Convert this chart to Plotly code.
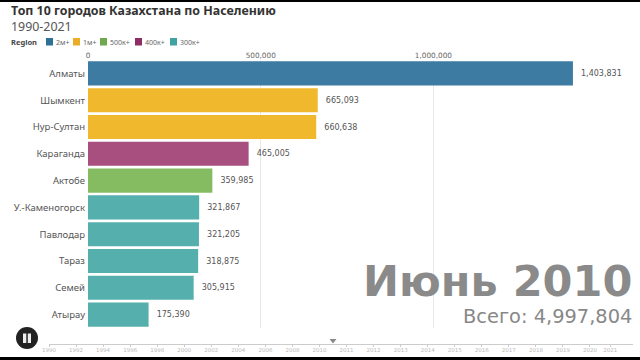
import plotly.graph_objects as go

cities = ["Алматы", "Шымкент", "Нур-Султан", "Караганда", "Актобе",
          "У.-Каменогорск", "Павлодар", "Тараз", "Семей", "Атырау"]
values = [1403831, 665093, 660638, 465005, 359985,
          321867, 321205, 318875, 305915, 175390]
regions = ["2м+", "1м+", "1м+", "400к+", "500к+",
           "300к+", "300к+", "300к+", "300к+", "300к+"]
region_names = ["2м+", "1м+", "500к+", "400к+", "300к+"]
bar_colors = ["#3d7ba3", "#f0b92d", "#85bc62", "#a84f80", "#55b0ad"]
legend_colors = ["#2f7099", "#e9ae25", "#6fa84f", "#8e2c66", "#3fa3a3"]
legend_x = [46, 73, 100, 135, 170]
x_ticks = [0, 500000, 1000000]
timeline_slots = list(range(0, 21)) + [20.75]
timeline_labels = ["1990", "1992", "1994", "1996", "1998", "2000", "2002", "2004", "2006", "2008",
                   "2010", "2011", "2012", "2013", "2014", "2015", "2016", "2017", "2018", "2019",
                   "2020", "2021"]
current_slot = [10.5]
period = "Июнь 2010"
total = "Всего: 4,997,804"

W, H = 640, 360
px = lambda v: v / W
py = lambda v: 1 - v / H
SANS = "Noto Sans"
DJ = "DejaVu Sans"

fig = go.Figure()
for name, color in zip(region_names, bar_colors):
    xs = [v for v, r in zip(values, regions) if r == name]
    ys = [c for c, r in zip(cities, regions) if r == name]
    fig.add_trace(go.Bar(
        x=xs, y=ys, orientation="h", name=name, marker=dict(color=color, line_width=0),
        width=0.9, text=[f"  {v:,}" for v in xs], textposition="outside",
        textfont=dict(family=DJ, size=8, color="#555"), cliponaxis=False, showlegend=False,
    ))
fig.add_trace(go.Scatter(
    x=current_slot, y=[0.5], xaxis="x2", yaxis="y2", mode="markers",
    marker=dict(symbol="triangle-down", size=6, color="#888"), showlegend=False,
))

annotations = [
    dict(x=px(10), y=py(18), align="left", xanchor="left",
         text='<span style="color:#333"><b>Топ 10 городов Казахстана по Населению</b></span><br>1990-2021',
         font=dict(family=SANS, size=12.4, color="#555")),
    dict(x=px(10), y=py(42), text="<b>Region</b>", xanchor="left",
         font=dict(family=SANS, size=7.5, color="#444")),
    dict(x=px(633), y=py(281), text=f"<b>{period}</b>", xanchor="right",
         font=dict(family=DJ, size=43, color="#8a8a8a")),
    dict(x=px(633), y=py(316), text=total, xanchor="right",
         font=dict(family=DJ, size=19.4, color="#888")),
]
shapes = [
    dict(type="rect", xref="paper", yref="paper", x0=0, x1=1, y0=py(2), y1=1,
         fillcolor="#000", line_width=0),
    dict(type="rect", xref="paper", yref="paper", x0=0, x1=1, y0=0, y1=py(357),
         fillcolor="#000", line_width=0),
    dict(type="circle", xref="paper", yref="paper", x0=px(16), x1=px(38), y0=py(349), y1=py(327),
         fillcolor="#222", line_width=0),
    dict(type="rect", xref="paper", yref="paper", x0=px(23), x1=px(26.3), y0=py(343), y1=py(333.5),
         fillcolor="#eee", line_width=0),
    dict(type="rect", xref="paper", yref="paper", x0=px(27.8), x1=px(31), y0=py(343), y1=py(333.5),
         fillcolor="#eee", line_width=0),
]
for name, color, lx in zip(region_names, legend_colors, legend_x):
    shapes.append(dict(type="rect", xref="paper", yref="paper", x0=px(lx), x1=px(lx + 7),
                       y0=py(45.5), y1=py(38), fillcolor=color, line_width=0))
    annotations.append(dict(x=px(lx + 9), y=py(42), text=name, xanchor="left",
                            font=dict(family=SANS, size=7, color="#666")))
for a in annotations:
    a.update(xref="paper", yref="paper", showarrow=False, yanchor="middle", xshift=0, borderpad=0)

fig.update_layout(
    width=W, height=H, margin=dict(l=0, r=0, t=0, b=0), autosize=False,
    plot_bgcolor="#fff", paper_bgcolor="#fff", barmode="overlay",
    annotations=annotations, shapes=shapes, showlegend=False,
    xaxis=dict(domain=[px(88), 1], range=[0, 1598000], side="top", anchor="y", automargin=False,
               tickvals=x_ticks, tickformat=",", showline=False, zeroline=False,
               showgrid=True, gridcolor="#e8e8e8", gridwidth=1, ticks="",
               tickfont=dict(family=DJ, size=7.3, color="#666")),
    yaxis=dict(domain=[py(328), py(60)], range=[9.5, -0.5], type="category", categoryorder="array",
               categoryarray=cities, showgrid=False, showline=False, zeroline=False, automargin=False,
               ticks="", ticklabelstandoff=2,
               tickfont=dict(family=SANS, size=9.5, color="#555")),
    xaxis2=dict(domain=[px(49), px(633)], range=[0, 21.59], anchor="y2", side="bottom", automargin=False,
                tickvals=timeline_slots, ticktext=timeline_labels, tickangle=0,
                showgrid=False, zeroline=False, showline=True, linecolor="#ccc", linewidth=1,
                ticks="outside", ticklen=2, tickcolor="#ccc", ticklabelstandoff=-2,
                tickfont=dict(family=DJ, size=5.5, color="#bbb")),
    yaxis2=dict(domain=[py(344), py(337)], range=[0, 1], anchor="x2", visible=False, automargin=False),
)
fig.write_html("out.html", config={"displayModeBar": False},
               post_script="document.body.style.margin='0';document.body.style.padding='0';var p=document.querySelector('.plotly-graph-div');if(p){p.style.margin='0';var q=p.parentElement;q.style.margin='0';q.style.padding='0';}")
